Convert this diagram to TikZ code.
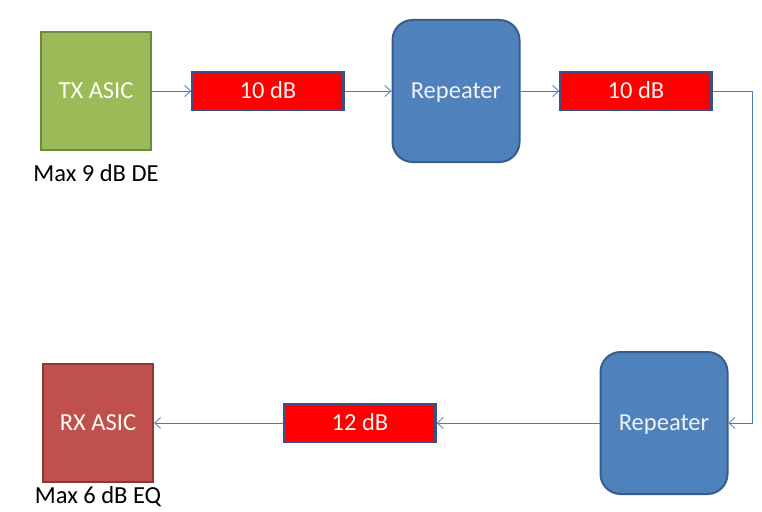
\documentclass[tikz,border=0pt]{standalone}
\usepackage{fontspec}
\setmainfont{Carlito}
\usepackage{xcolor}
\usepackage{tikz}
\usetikzlibrary{arrows.meta,positioning}

\definecolor{asicgreen}{HTML}{9BBB59}
\definecolor{asicgreenb}{HTML}{71893F}
\definecolor{asicred}{HTML}{C0504D}
\definecolor{asicredb}{HTML}{8C3836}
\definecolor{repblue}{HTML}{4F81BD}
\definecolor{repblueb}{HTML}{385D8A}
\definecolor{lossb}{HTML}{3F4F80}
\definecolor{wire}{HTML}{4A7EBB}

\tikzset{
  boxtext/.style={font=\fontsize{24.5}{28}\selectfont, text height=15pt, text depth=0pt},
  asic/.style={draw, line width=2.2pt, minimum width=110pt, minimum height=118pt,
    inner sep=0pt, text=white!95!yellow, boxtext},
  repeater/.style={draw=repblueb, fill=repblue, line width=2pt, rounded corners=20pt,
    minimum width=127pt, minimum height=142pt, inner sep=0pt, text=white!95!black,
    boxtext},
  loss/.style={draw=lossb, fill=red, line width=2.4pt, minimum width=151pt,
    minimum height=38pt, inner sep=0pt, text=white!95!black, boxtext},
  note/.style={inner sep=0pt, font=\fontsize{24.5}{28}\selectfont},
  link/.style={draw=wire, line width=0.8pt, -{Straight Barb[length=6pt,width=11pt]}}
}

\begin{document}
\begin{tikzpicture}[x=1pt,y=-1pt]
\useasboundingbox (0,0) rectangle (762,511);

% top row
\node[asic, fill=asicgreen, draw=asicgreenb] (tx) at (96,91) {TX ASIC};
\node[note, below=13pt of tx] (txnote) {Max 9 dB DE};
\node[loss] (lossa) at (268,91) {10 dB};
\node[repeater] (repa) at (456,91) {Repeater};
\node[loss] (lossb) at (636,91) {10 dB};
\coordinate (bend) at (752,91);

% bottom row
\node[repeater] (repb) at (664,423) {Repeater};
\node[loss] (lossc) at (360,423) {12 dB};
\node[asic, fill=asicred, draw=asicredb] (rx) at (98,423) {RX ASIC};
\node[note, below=3pt of rx] (rxnote) {Max 6 dB EQ};

\draw[link] (tx) -- (lossa);
\draw[link] (lossa) -- (repa);
\draw[link] (repa) -- (lossb);
\draw[link] (lossb.east) -- (bend) |- (repb.east);
\draw[link] (repb) -- (lossc);
\draw[link] (lossc) -- (rx);
\end{tikzpicture}
\end{document}
